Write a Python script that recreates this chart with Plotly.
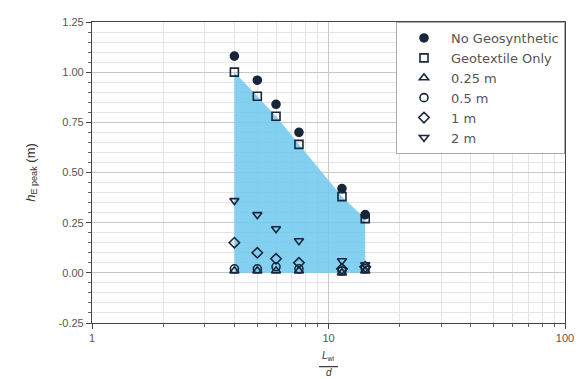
import plotly.graph_objects as go

# ---- data ----
x_ratio = [4.0, 5.0, 6.0, 7.5, 11.4, 14.3]
no_geosynthetic = [1.08, 0.96, 0.84, 0.70, 0.42, 0.29]
geotextile_only = [1.00, 0.88, 0.78, 0.64, 0.38, 0.27]
h_025 = [0.01, 0.01, 0.01, 0.01, 0.00, 0.01]
h_05 = [0.02, 0.02, 0.03, 0.02, 0.01, 0.02]
h_1 = [0.15, 0.10, 0.07, 0.05, 0.02, 0.03]
h_2 = [0.36, 0.29, 0.22, 0.16, 0.06, 0.04]
y_ticks = [-0.25, 0.0, 0.25, 0.5, 0.75, 1.0, 1.25]
y_tick_text = ["-0.25", "0.00", "0.25", "0.50", "0.75", "1.00", "1.25"]
x_ticks = [1, 10, 100]
x_tick_text = ["1", "10", "100"]
x_minor = [2, 3, 4, 5, 6, 7, 8, 9, 20, 30, 40, 50, 60, 70, 80, 90]

mark = "#17263a"
fig = go.Figure()

# shaded region bounded by geotextile-only curve
fill_x = [x_ratio[0]] + x_ratio + [x_ratio[-1]]
fill_y = [0.0] + geotextile_only + [0.0]
fig.add_trace(go.Scatter(x=fill_x, y=fill_y, fill="toself", mode="none",
                         fillcolor="rgba(110,200,238,0.85)", showlegend=False,
                         hoverinfo="skip"))

series = [
    ("No Geosynthetic", no_geosynthetic, "circle"),
    ("Geotextile Only", geotextile_only, "square-open"),
    ("0.25 m", h_025, "triangle-up-open"),
    ("0.5 m", h_05, "circle-open"),
    ("1 m", h_1, "diamond-open"),
    ("2 m", h_2, "triangle-down-open"),
]
for name, ys, sym in series:
    fig.add_trace(go.Scatter(
        x=x_ratio, y=ys, mode="markers", name=name,
        marker=dict(symbol=sym, size=8, color=mark,
                    line=dict(color=mark, width=1.6))))

axis_common = dict(showline=True, linecolor="#444", linewidth=1.2, mirror=True,
                   ticks="outside", tickcolor="#444", ticklen=5,
                   gridcolor="#c8c8c8", gridwidth=1, zeroline=False,
                   tickfont=dict(family="Liberation Sans, Arial", size=11, color="#555"))

fig.update_xaxes(type="log", range=[0, 2], tickvals=x_ticks, ticktext=x_tick_text,
                 minor=dict(tickvals=x_minor, ticks="outside", ticklen=3, tickcolor="#666",
                            showgrid=True, gridcolor="#e4e4e4"),
                 **axis_common)
fig.update_yaxes(range=[-0.25, 1.25], tickvals=y_ticks, ticktext=y_tick_text,
                 minor=dict(dtick=0.05, ticks="outside", ticklen=3, tickcolor="#666",
                            showgrid=True, gridcolor="#e4e4e4"),
                 title=dict(text="<i>h</i><sub>E peak</sub> (m)",
                            font=dict(family="Liberation Sans, Arial", size=13, color="#333"),
                            standoff=20),
                 **axis_common)

# x-axis title as a stacked fraction
fig.add_annotation(text="<i>L</i><sub>wi</sub>", x=0.5, y=-0.108, xref="paper", yref="paper",
                   showarrow=False, yanchor="middle",
                   font=dict(family="Liberation Sans, Arial", size=10, color="#333"))
fig.add_shape(type="line", xref="paper", yref="paper", x0=0.48, x1=0.52,
              y0=-0.145, y1=-0.145, line=dict(color="#333", width=1.2))
fig.add_annotation(text="<i>d</i>", x=0.5, y=-0.165, xref="paper", yref="paper",
                   showarrow=False, yanchor="middle",
                   font=dict(family="Liberation Sans, Arial", size=10, color="#333"))

# page body has an 8px margin, so the figure is sized/offset to compensate
fig.update_layout(
    width=576, height=371,
    margin=dict(l=84, r=19, t=8, b=56),
    paper_bgcolor="white", plot_bgcolor="white",
    font=dict(family="Liberation Sans, Arial", color="#444"),
    showlegend=True,
    legend=dict(x=1, y=1, xanchor="right", yanchor="top",
                bgcolor="white", bordercolor="#aaa", borderwidth=1,
                font=dict(family="DejaVu Sans", size=13, color="#555"), itemwidth=44,
                tracegroupgap=0),
)

fig.write_html("out.html")
